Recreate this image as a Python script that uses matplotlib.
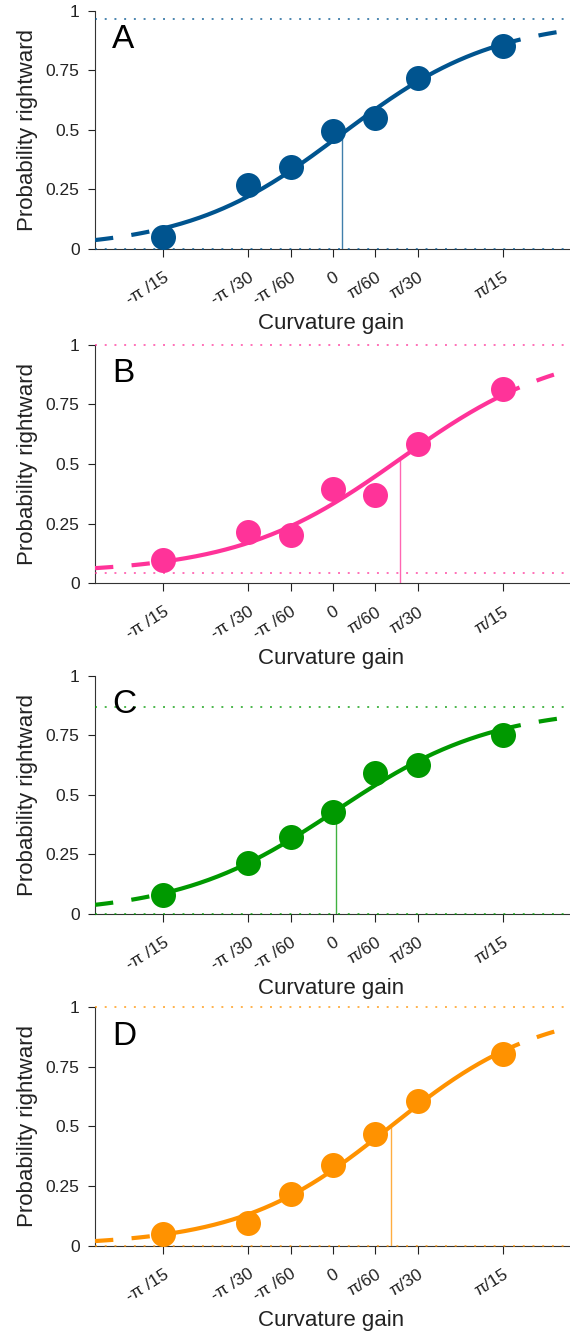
import matplotlib
matplotlib.use("Agg")
import matplotlib.pyplot as plt
import matplotlib.transforms as mtransforms
import numpy as np

# curvature gains (rad) and their tick labels
gains = [-np.pi / 15, -np.pi / 30, -np.pi / 60, 0, np.pi / 60, np.pi / 30, np.pi / 15]
gain_labels = ["-π /15", "-π /30", "-π /60", "0", "π/60", "π/30", "π/15"]

# proportion of rightward responses
p_a = [0.049, 0.269, 0.346, 0.496, 0.549, 0.717, 0.853]
p_b = [0.097, 0.216, 0.202, 0.397, 0.372, 0.583, 0.816]
p_c = [0.080, 0.215, 0.324, 0.426, 0.592, 0.627, 0.749]
p_d = [0.049, 0.094, 0.216, 0.338, 0.470, 0.605, 0.805]

# fitted psychometric functions: guess rate, upper asymptote, PSE, slope
guess = [0.0, 0.042, 0.0, 0.0]
upper = [0.965, 1.0, 0.868, 1.0]
pse = [0.0107, 0.0826, 0.0037, 0.071]
slope = [0.095, 0.100, 0.097, 0.093]

panel_names = ["A", "B", "C", "D"]
colores = ["#00548F", "#FF3399", "#009900", "#FF9200"]
datos = [p_a, p_b, p_c, p_d]

xlim = (-0.2935, 0.2922)


def psico(x, g, u, mu, s):
    return g + (u - g) / (1 + np.exp(-(np.asarray(x) - mu) / s))


plt.rcParams["font.family"] = ["Liberation Sans", "DejaVu Sans"]
fig = plt.figure(figsize=(5.7, 13.34), dpi=100)

bottoms = [0.8133, 0.5627, 0.3148, 0.0662]
desplaza = mtransforms.ScaledTranslation(5 / 100, 0, fig.dpi_scale_trans)

for i in range(4):
    ax = fig.add_axes([95 / 570, bottoms[i], 1 - 95 / 570, 0.1788])
    col = colores[i]
    g, u, mu, s = guess[i], upper[i], pse[i], slope[i]

    # asymptotes (dotted)
    for yy in (g, u):
        ax.plot(xlim, [yy, yy], color=col, alpha=0.7, lw=1.4, dashes=(1, 4), zorder=3, clip_on=False)

    # fitted curve: solid inside stimulus range, dashed outside
    xs = np.linspace(gains[0], gains[-1], 300)
    ax.plot(xs, psico(xs, g, u, mu, s), color=col, lw=3, solid_capstyle="butt", zorder=4)
    xl = np.linspace(xlim[0], gains[0], 100)
    ax.plot(xl, psico(xl, g, u, mu, s), color=col, lw=3, dashes=(4.4, 4.4), zorder=4)
    xr = np.linspace(gains[-1], xlim[1], 100)
    ax.plot(xr, psico(xr, g, u, mu, s), color=col, lw=3, dashes=(4.4, 4.4), zorder=4)

    # PSE marker line
    ax.plot([mu, mu], [0, psico(mu, g, u, mu, s)], color=col, lw=1.0, alpha=0.75, zorder=3)

    # data points
    ax.plot(gains, datos[i], "o", color=col, markersize=18, markeredgewidth=0, zorder=5, clip_on=False)

    ax.set_xlim(xlim)
    ax.set_ylim(0, 1)
    ax.set_yticks([0, 0.25, 0.5, 0.75, 1])
    ax.set_yticklabels(["0", "0.25", "0.5", "0.75", "1"])
    ax.set_xticks(gains)
    ax.set_xticklabels(gain_labels, rotation=32, ha="right", rotation_mode="anchor")
    for lab in ax.get_xticklabels():
        lab.set_transform(lab.get_transform() + desplaza)
    ax.tick_params(axis="y", length=5, width=0.8, pad=6, labelsize=12.5, colors="#222222")
    ax.tick_params(axis="x", length=6, width=0.8, pad=9, labelsize=12.5, colors="#222222")
    for sp in ["top", "right"]:
        ax.spines[sp].set_visible(False)
    for sp in ["left", "bottom"]:
        ax.spines[sp].set_color("#333333")
        ax.spines[sp].set_linewidth(0.8)

    ax.set_ylabel("Probability rightward", fontsize=16, color="#222222")
    ax.yaxis.set_label_coords(-0.12, 0.5)
    ax.set_xlabel("Curvature gain", fontsize=16, color="#222222")
    ax.xaxis.set_label_coords(0.498, -0.27)
    ax.text(0.036, 0.878, panel_names[i], transform=ax.transAxes, fontsize=24, va="center", ha="left", color="black")

plt.savefig("out.png", dpi=100)
